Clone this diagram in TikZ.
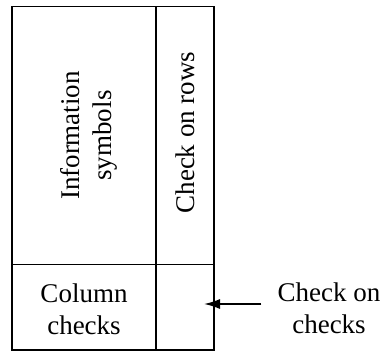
\documentclass[tikz,border=0pt]{standalone}
\usepackage{fontspec}
\setmainfont{Liberation Serif}
\usetikzlibrary{arrows.meta,positioning}

\begin{document}
\begin{tikzpicture}[x=1pt,y=1pt,node distance=0pt,>={Latex[length=16pt,width=10pt]},
    font=\fontsize{27}{32}\selectfont]
    \useasboundingbox (0,0) rectangle (382,351);
    \tikzset{cell/.style={draw,line width=1.5pt,inner sep=0pt,outer sep=0pt}}
    \node[cell,anchor=north west,minimum width=144pt,minimum height=258pt] (info) at (12,344.5) {};
    \node[cell,right=of info,minimum width=58pt,minimum height=258pt] (rows) {};
    \node[cell,below=of info,minimum width=144pt,minimum height=85.5pt] (colchk) {};
    \node[cell,right=of colchk,minimum width=58pt,minimum height=85.5pt] (chkchk) {};
    \node[rotate=90,align=center] (infotext) at ([xshift=5pt]info.center) {Information\\symbols};
    \node[rotate=90] (rowstext) at ([yshift=3pt]rows.center) {Check on rows};
    \node[align=center] (coltext) at ([yshift=-2pt]colchk.center) {Column\\checks};
    \coordinate (tip) at (204,47);
    \node[align=center,inner xsep=16pt] (note) at (329,43) {Check on\\checks};
    \draw[->,line width=1.5pt] (note.west |- tip) -- (tip);
  \end{tikzpicture}
\end{document}
